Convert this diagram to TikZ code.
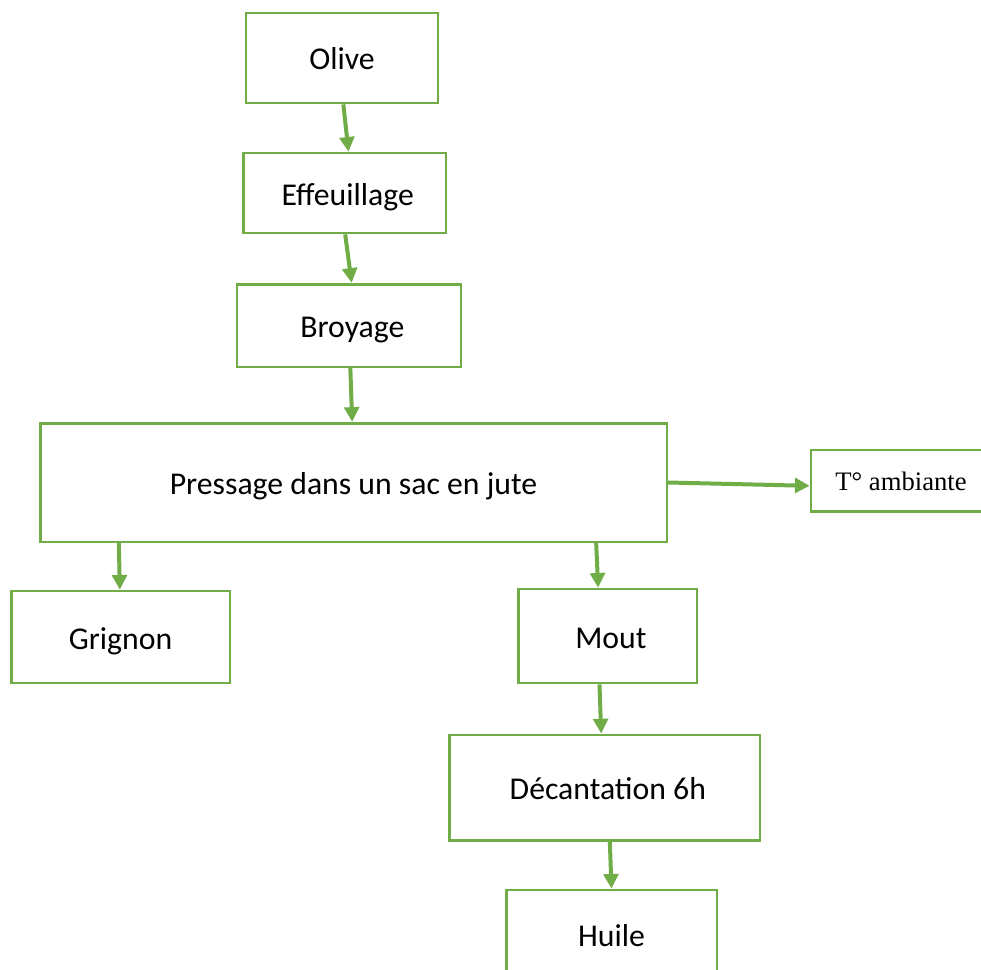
\documentclass[tikz,border=0pt]{standalone}
\usepackage{fontspec}
\setmainfont{Carlito}
\newfontfamily\timesfont{Liberation Serif}
\usetikzlibrary{arrows.meta}
\definecolor{leafgreen}{RGB}{112,173,71}
\tikzset{
  stepbox/.style={draw=leafgreen, line width=2pt, fill=white, inner sep=0pt,
    text height=18pt, text depth=0pt,
    font=\fontsize{23.8}{28}\selectfont},
  flow/.style={draw=leafgreen, line width=3pt,
    -{Triangle[width=11pt,length=11pt]}}
}
\begin{document}
\begin{tikzpicture}[x=0.75pt,y=-0.75pt]
    \clip (0,0) rectangle (981,970);
    \useasboundingbox (0,0) rectangle (981,970);
    % boxes
    \node[stepbox, minimum width=144pt, minimum height=67.5pt] (olive) at (342,58) {Olive};
    \node[stepbox, minimum width=152pt, minimum height=60pt] (effeuil) at (344.5,193) {\hspace*{5pt}Effeuillage};
    \node[stepbox, minimum width=168pt, minimum height=62pt] (broyage) at (349,325.5) {\hspace*{5pt}Broyage};
    \node[stepbox, minimum width=470pt, minimum height=89pt] (pressage) at (353.5,482.5) {Pressage dans un sac en jute};
    \node[stepbox, minimum width=135pt, minimum height=46pt, text height=15pt,
      font=\timesfont\fontsize{20}{24}\selectfont] (temp) at (901,480.5) {T° ambiante};
    \node[stepbox, minimum width=164pt, minimum height=69pt] (grignon) at (120.5,637) {Grignon};
    \node[stepbox, minimum width=134pt, minimum height=70.5pt] (mout) at (607.5,636) {\hspace*{5pt}Mout};
    \node[stepbox, minimum width=233pt, minimum height=79pt] (decant) at (604.5,787.5) {\hspace*{5pt}Décantation 6h};
    \node[stepbox, minimum width=158pt, minimum height=66pt] (huile) at (611.5,934) {Huile};
    % arrows
    \draw[flow] ([xshift=1pt]olive.south) -- ([xshift=3pt]effeuil.north);
    \draw[flow] ([xshift=0.5pt]effeuil.south) -- ([xshift=2pt]broyage.north);
    \draw[flow] ([xshift=1pt]broyage.south) -- ([xshift=-1pt]pressage.north);
    \draw[flow] ([xshift=-176pt]pressage.south) -- ([xshift=-0.5pt]grignon.north);
    \draw[flow] ([xshift=182pt]pressage.south) -- ([xshift=-7pt]mout.north);
    \draw[flow] ([xshift=-6pt]mout.south) -- ([xshift=-2.5pt]decant.north);
    \draw[flow] ([xshift=4pt]decant.south) -- ([xshift=0pt]huile.north);
    \draw[flow] (pressage.east) -- ([yshift=-4pt]temp.west);
\end{tikzpicture}
\end{document}
